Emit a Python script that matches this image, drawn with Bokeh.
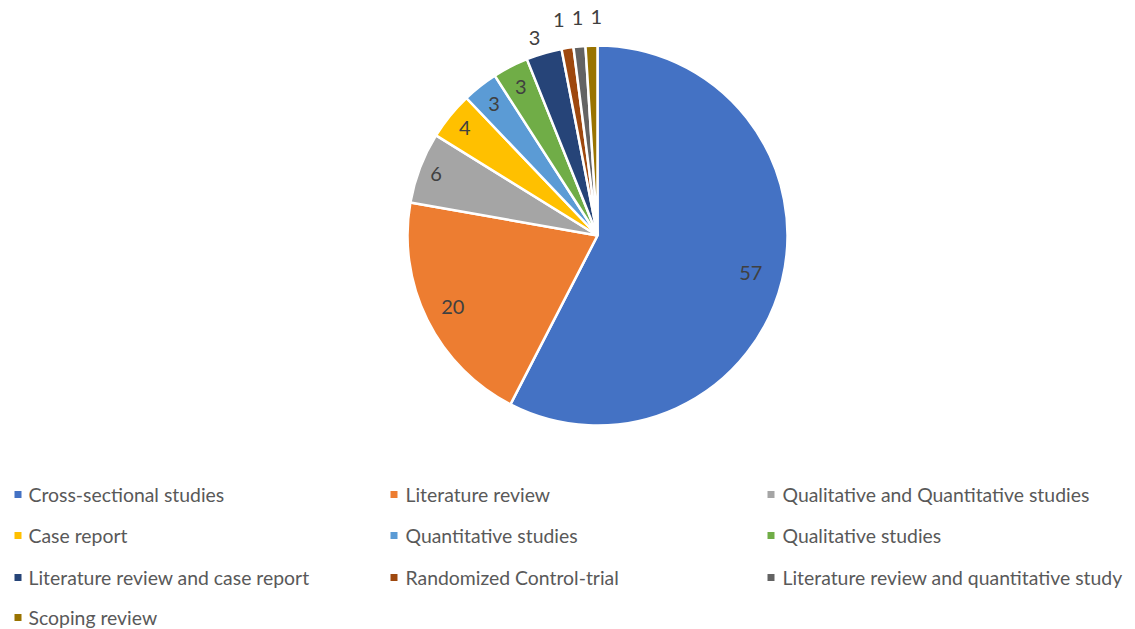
import math
from bokeh.plotting import figure
from bokeh.models import ColumnDataSource
from bokeh.core.properties import value
from bokeh.embed import file_html
from bokeh.resources import INLINE

# ---- data ----
categories = [
    "Cross-sectional studies",
    "Literature review",
    "Qualitative and Quantitative studies",
    "Case report",
    "Quantitative studies",
    "Qualitative studies",
    "Literature review and case report",
    "Randomized Control-trial",
    "Literature review and quantitative study",
    "Scoping review",
]
counts = [57, 20, 6, 4, 3, 3, 3, 1, 1, 1]
colors = ["#4472C4", "#ED7D31", "#A5A5A5", "#FFC000", "#5B9BD5",
          "#70AD47", "#264478", "#9E480E", "#636363", "#997300"]

# ---- style / layout ----
W, H = 1135, 629
CX, CY = 597, 394          # pie centre (data units == pixels)
R = 190
label_r_factor = [0.83, 0.85, 0.91, 0.9, 0.88, 0.88, 1.09, 1.15, 1.15, 1.15]
label_angle_nudge_deg = [0, 0, 0, 0, 0, 0, 1.3, 1.1, -0.2, -1.5]
FONT = "Lato"

p = figure(width=W, height=H, x_range=(0, W), y_range=(0, H),
           output_backend="svg", toolbar_location=None, min_border=0)
p.axis.visible = False
p.grid.visible = False
p.outline_line_color = None
p.background_fill_color = "white"

total = sum(counts)
starts, ends, mids = [], [], []
cum = 0
for c in counts:
    a0 = math.pi / 2 - 2 * math.pi * cum / total
    a1 = math.pi / 2 - 2 * math.pi * (cum + c) / total
    starts.append(a0)
    ends.append(a1)
    mids.append((a0 + a1) / 2)
    cum += c

src = ColumnDataSource(dict(start=starts, end=ends, color=colors,
                            x=[CX] * len(counts), y=[CY] * len(counts)))
p.wedge(x="x", y="y", radius=R, start_angle="start", end_angle="end",
        direction="clock", fill_color="color", line_color="white",
        line_width=2.5, source=src)

angs = [m + math.radians(n) for m, n in zip(mids, label_angle_nudge_deg)]
lx = [CX + R * f * math.cos(a) for f, a in zip(label_r_factor, angs)]
ly = [CY + R * f * math.sin(a) for f, a in zip(label_r_factor, angs)]
p.text(x=lx, y=ly, text=[str(c) for c in counts], text_align="center",
       text_baseline="middle", text_font=value(FONT), text_font_size="20px",
       text_color="#404040")

# ---- legend ----
col_sq_x = [17.5, 393.5, 770.5]
col_tx_x = [28, 405, 782]
row_y = [135, 94, 52, 12]
for i, name in enumerate(categories):
    r, c = divmod(i, 3)
    p.rect(x=col_sq_x[c], y=row_y[r], width=7, height=7,
           width_units="screen", height_units="screen",
           fill_color=colors[i], line_color=None)
    p.text(x=[col_tx_x[c]], y=[row_y[r]], text=[name], text_align="left",
           text_baseline="middle", text_font=value(FONT),
           text_font_size="19.4px", text_color="#595959")

open("out.html", "w").write(file_html(p, INLINE))
